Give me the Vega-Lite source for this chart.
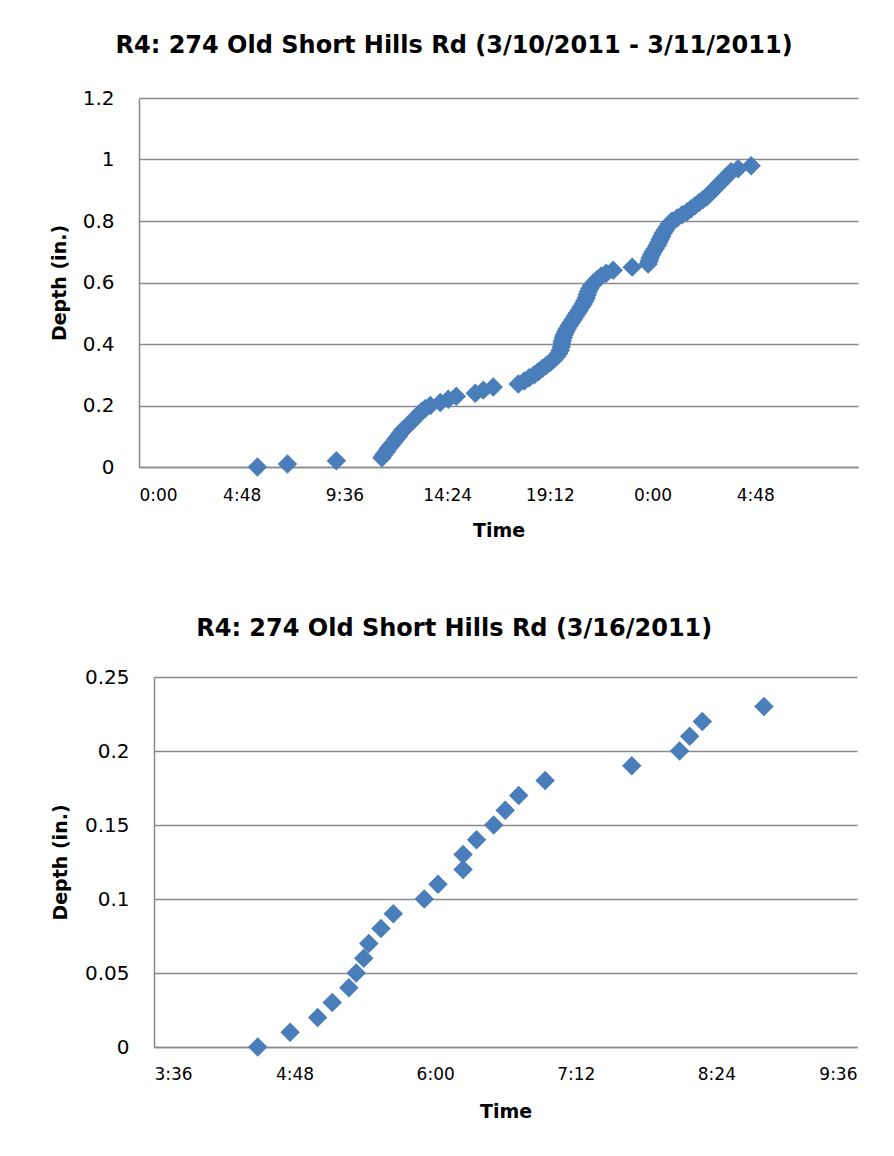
{
  "$schema": "https://vega.github.io/schema/vega-lite/v6.json",
  "background": "white",
  "padding": {"left": 50, "top": 34, "right": 20, "bottom": 5},
  "config": {
    "font": "DejaVu Sans",
    "view": {"stroke": null},
    "axis": {
      "labelColor": "#000000",
      "titleColor": "#000000",
      "titleFont": "DejaVu Sans",
      "titleFontWeight": "bold",
      "titleFontSize": 19,
      "labelFont": "DejaVu Sans",
      "ticks": false,
      "tickSize": 0,
      "domainColor": "#8a8a8a",
      "domainWidth": 1.5,
      "gridColor": "#8a8a8a",
      "gridWidth": 1.5
    },
    "axisX": {"labelFontSize": 17, "labelPadding": 20, "titlePadding": 18, "grid": false},
    "axisY": {"labelFontSize": 20, "labelPadding": 25, "titlePadding": 13, "grid": true},
    "title": {"font": "DejaVu Sans", "fontSize": 24, "fontWeight": "bold", "color": "#000000", "anchor": "middle", "frame": "bounds", "offset": 30}
  },
  "datasets": {
    "mar10": [
      {"time": 0.2306, "depth": 0.00},
      {"time": 0.2890, "depth": 0.01},
      {"time": 0.3843, "depth": 0.02},
      {"time": 0.4729, "depth": 0.03},
      {"time": 0.4767, "depth": 0.04},
      {"time": 0.4816, "depth": 0.05},
      {"time": 0.4855, "depth": 0.06},
      {"time": 0.4904, "depth": 0.07},
      {"time": 0.4952, "depth": 0.08},
      {"time": 0.5001, "depth": 0.09},
      {"time": 0.5050, "depth": 0.10},
      {"time": 0.5089, "depth": 0.11},
      {"time": 0.5137, "depth": 0.12},
      {"time": 0.5205, "depth": 0.13},
      {"time": 0.5264, "depth": 0.14},
      {"time": 0.5322, "depth": 0.15},
      {"time": 0.5380, "depth": 0.16},
      {"time": 0.5439, "depth": 0.17},
      {"time": 0.5497, "depth": 0.18},
      {"time": 0.5575, "depth": 0.19},
      {"time": 0.5672, "depth": 0.20},
      {"time": 0.5867, "depth": 0.21},
      {"time": 0.6023, "depth": 0.22},
      {"time": 0.6178, "depth": 0.23},
      {"time": 0.6548, "depth": 0.24},
      {"time": 0.6704, "depth": 0.25},
      {"time": 0.6898, "depth": 0.26},
      {"time": 0.7385, "depth": 0.27},
      {"time": 0.7501, "depth": 0.28},
      {"time": 0.7599, "depth": 0.29},
      {"time": 0.7696, "depth": 0.30},
      {"time": 0.7774, "depth": 0.31},
      {"time": 0.7852, "depth": 0.32},
      {"time": 0.7930, "depth": 0.33},
      {"time": 0.8007, "depth": 0.34},
      {"time": 0.8076, "depth": 0.35},
      {"time": 0.8134, "depth": 0.36},
      {"time": 0.8173, "depth": 0.37},
      {"time": 0.8202, "depth": 0.38},
      {"time": 0.8222, "depth": 0.39},
      {"time": 0.8231, "depth": 0.40},
      {"time": 0.8241, "depth": 0.41},
      {"time": 0.8261, "depth": 0.42},
      {"time": 0.8280, "depth": 0.43},
      {"time": 0.8309, "depth": 0.44},
      {"time": 0.8338, "depth": 0.45},
      {"time": 0.8377, "depth": 0.46},
      {"time": 0.8416, "depth": 0.47},
      {"time": 0.8455, "depth": 0.48},
      {"time": 0.8494, "depth": 0.49},
      {"time": 0.8533, "depth": 0.50},
      {"time": 0.8572, "depth": 0.51},
      {"time": 0.8611, "depth": 0.52},
      {"time": 0.8650, "depth": 0.53},
      {"time": 0.8679, "depth": 0.54},
      {"time": 0.8708, "depth": 0.55},
      {"time": 0.8727, "depth": 0.56},
      {"time": 0.8747, "depth": 0.57},
      {"time": 0.8776, "depth": 0.58},
      {"time": 0.8815, "depth": 0.59},
      {"time": 0.8864, "depth": 0.60},
      {"time": 0.8922, "depth": 0.61},
      {"time": 0.9000, "depth": 0.62},
      {"time": 0.9097, "depth": 0.63},
      {"time": 0.9233, "depth": 0.64},
      {"time": 0.9603, "depth": 0.65},
      {"time": 0.9914, "depth": 0.66},
      {"time": 0.9934, "depth": 0.67},
      {"time": 0.9953, "depth": 0.68},
      {"time": 0.9982, "depth": 0.69},
      {"time": 1.0012, "depth": 0.70},
      {"time": 1.0051, "depth": 0.71},
      {"time": 1.0090, "depth": 0.72},
      {"time": 1.0119, "depth": 0.73},
      {"time": 1.0148, "depth": 0.74},
      {"time": 1.0177, "depth": 0.75},
      {"time": 1.0206, "depth": 0.76},
      {"time": 1.0245, "depth": 0.77},
      {"time": 1.0284, "depth": 0.78},
      {"time": 1.0323, "depth": 0.79},
      {"time": 1.0381, "depth": 0.80},
      {"time": 1.0479, "depth": 0.81},
      {"time": 1.0576, "depth": 0.82},
      {"time": 1.0673, "depth": 0.83},
      {"time": 1.0751, "depth": 0.84},
      {"time": 1.0829, "depth": 0.85},
      {"time": 1.0907, "depth": 0.86},
      {"time": 1.0985, "depth": 0.87},
      {"time": 1.1063, "depth": 0.88},
      {"time": 1.1121, "depth": 0.89},
      {"time": 1.1179, "depth": 0.90},
      {"time": 1.1238, "depth": 0.91},
      {"time": 1.1296, "depth": 0.92},
      {"time": 1.1354, "depth": 0.93},
      {"time": 1.1413, "depth": 0.94},
      {"time": 1.1471, "depth": 0.95},
      {"time": 1.1530, "depth": 0.96},
      {"time": 1.1666, "depth": 0.97},
      {"time": 1.1919, "depth": 0.98}
    ],
    "mar16": [
      {"time": 0.1869, "depth": 0.00},
      {"time": 0.1984, "depth": 0.01},
      {"time": 0.2082, "depth": 0.02},
      {"time": 0.2134, "depth": 0.03},
      {"time": 0.2193, "depth": 0.04},
      {"time": 0.2219, "depth": 0.05},
      {"time": 0.2246, "depth": 0.06},
      {"time": 0.2264, "depth": 0.07},
      {"time": 0.2307, "depth": 0.08},
      {"time": 0.2351, "depth": 0.09},
      {"time": 0.2461, "depth": 0.10},
      {"time": 0.2510, "depth": 0.11},
      {"time": 0.2599, "depth": 0.12},
      {"time": 0.2599, "depth": 0.13},
      {"time": 0.2647, "depth": 0.14},
      {"time": 0.2708, "depth": 0.15},
      {"time": 0.2749, "depth": 0.16},
      {"time": 0.2797, "depth": 0.17},
      {"time": 0.2891, "depth": 0.18},
      {"time": 0.3199, "depth": 0.19},
      {"time": 0.3369, "depth": 0.20},
      {"time": 0.3405, "depth": 0.21},
      {"time": 0.3450, "depth": 0.22},
      {"time": 0.3669, "depth": 0.23}
    ]
  },
  "spacing": 77,
  "vconcat": [
    {
      "title": {"text": "R4: 274 Old Short Hills Rd (3/10/2011 - 3/11/2011)"},
      "width": 719,
      "height": 369,
      "data": {"name": "mar10"},
      "mark": {"type": "point", "shape": "diamond", "filled": true, "size": 380, "color": "#4a7ebb", "opacity": 1},
      "encoding": {
        "x": {
          "field": "time", "type": "quantitative", "title": "Time",
          "scale": {"domain": [0, 1.4], "nice": false, "zero": false},
          "axis": {"values": [0, 0.2, 0.4, 0.6, 0.8, 1.0, 1.2], "labelExpr": "(floor(round(datum.value*1440)/60)%24) + ':' + pad(toString(round(datum.value*1440)%60), 2, '0', 'left')"}
        },
        "y": {
          "field": "depth", "type": "quantitative", "title": "Depth (in.)",
          "scale": {"domain": [0, 1.2], "nice": false},
          "axis": {"values": [0, 0.2, 0.4, 0.6, 0.8, 1.0, 1.2], "format": "~g"}
        }
      }
    },
    {
      "title": {"text": "R4: 274 Old Short Hills Rd (3/16/2011)", "offset": 26},
      "width": 718,
      "height": 370,
      "data": {"name": "mar16"},
      "mark": {"type": "point", "shape": "diamond", "filled": true, "size": 380, "color": "#4a7ebb", "opacity": 1},
      "encoding": {
        "x": {
          "field": "time", "type": "quantitative", "title": "Time",
          "scale": {"domain": [0.15, 0.4], "range": [15, 718], "nice": false, "zero": false},
          "axis": {"values": [0.15, 0.2, 0.25, 0.3, 0.35, 0.4], "labelPadding": 19, "titlePadding": 20, "labelExpr": "(floor(round(datum.value*1440)/60)%24) + ':' + pad(toString(round(datum.value*1440)%60), 2, '0', 'left')"}
        },
        "y": {
          "field": "depth", "type": "quantitative", "title": "Depth (in.)",
          "scale": {"domain": [0, 0.25], "nice": false},
          "axis": {"values": [0, 0.05, 0.1, 0.15, 0.2, 0.25], "format": "~g", "titlePadding": 14, "offset": -15}
        }
      }
    }
  ]
}
